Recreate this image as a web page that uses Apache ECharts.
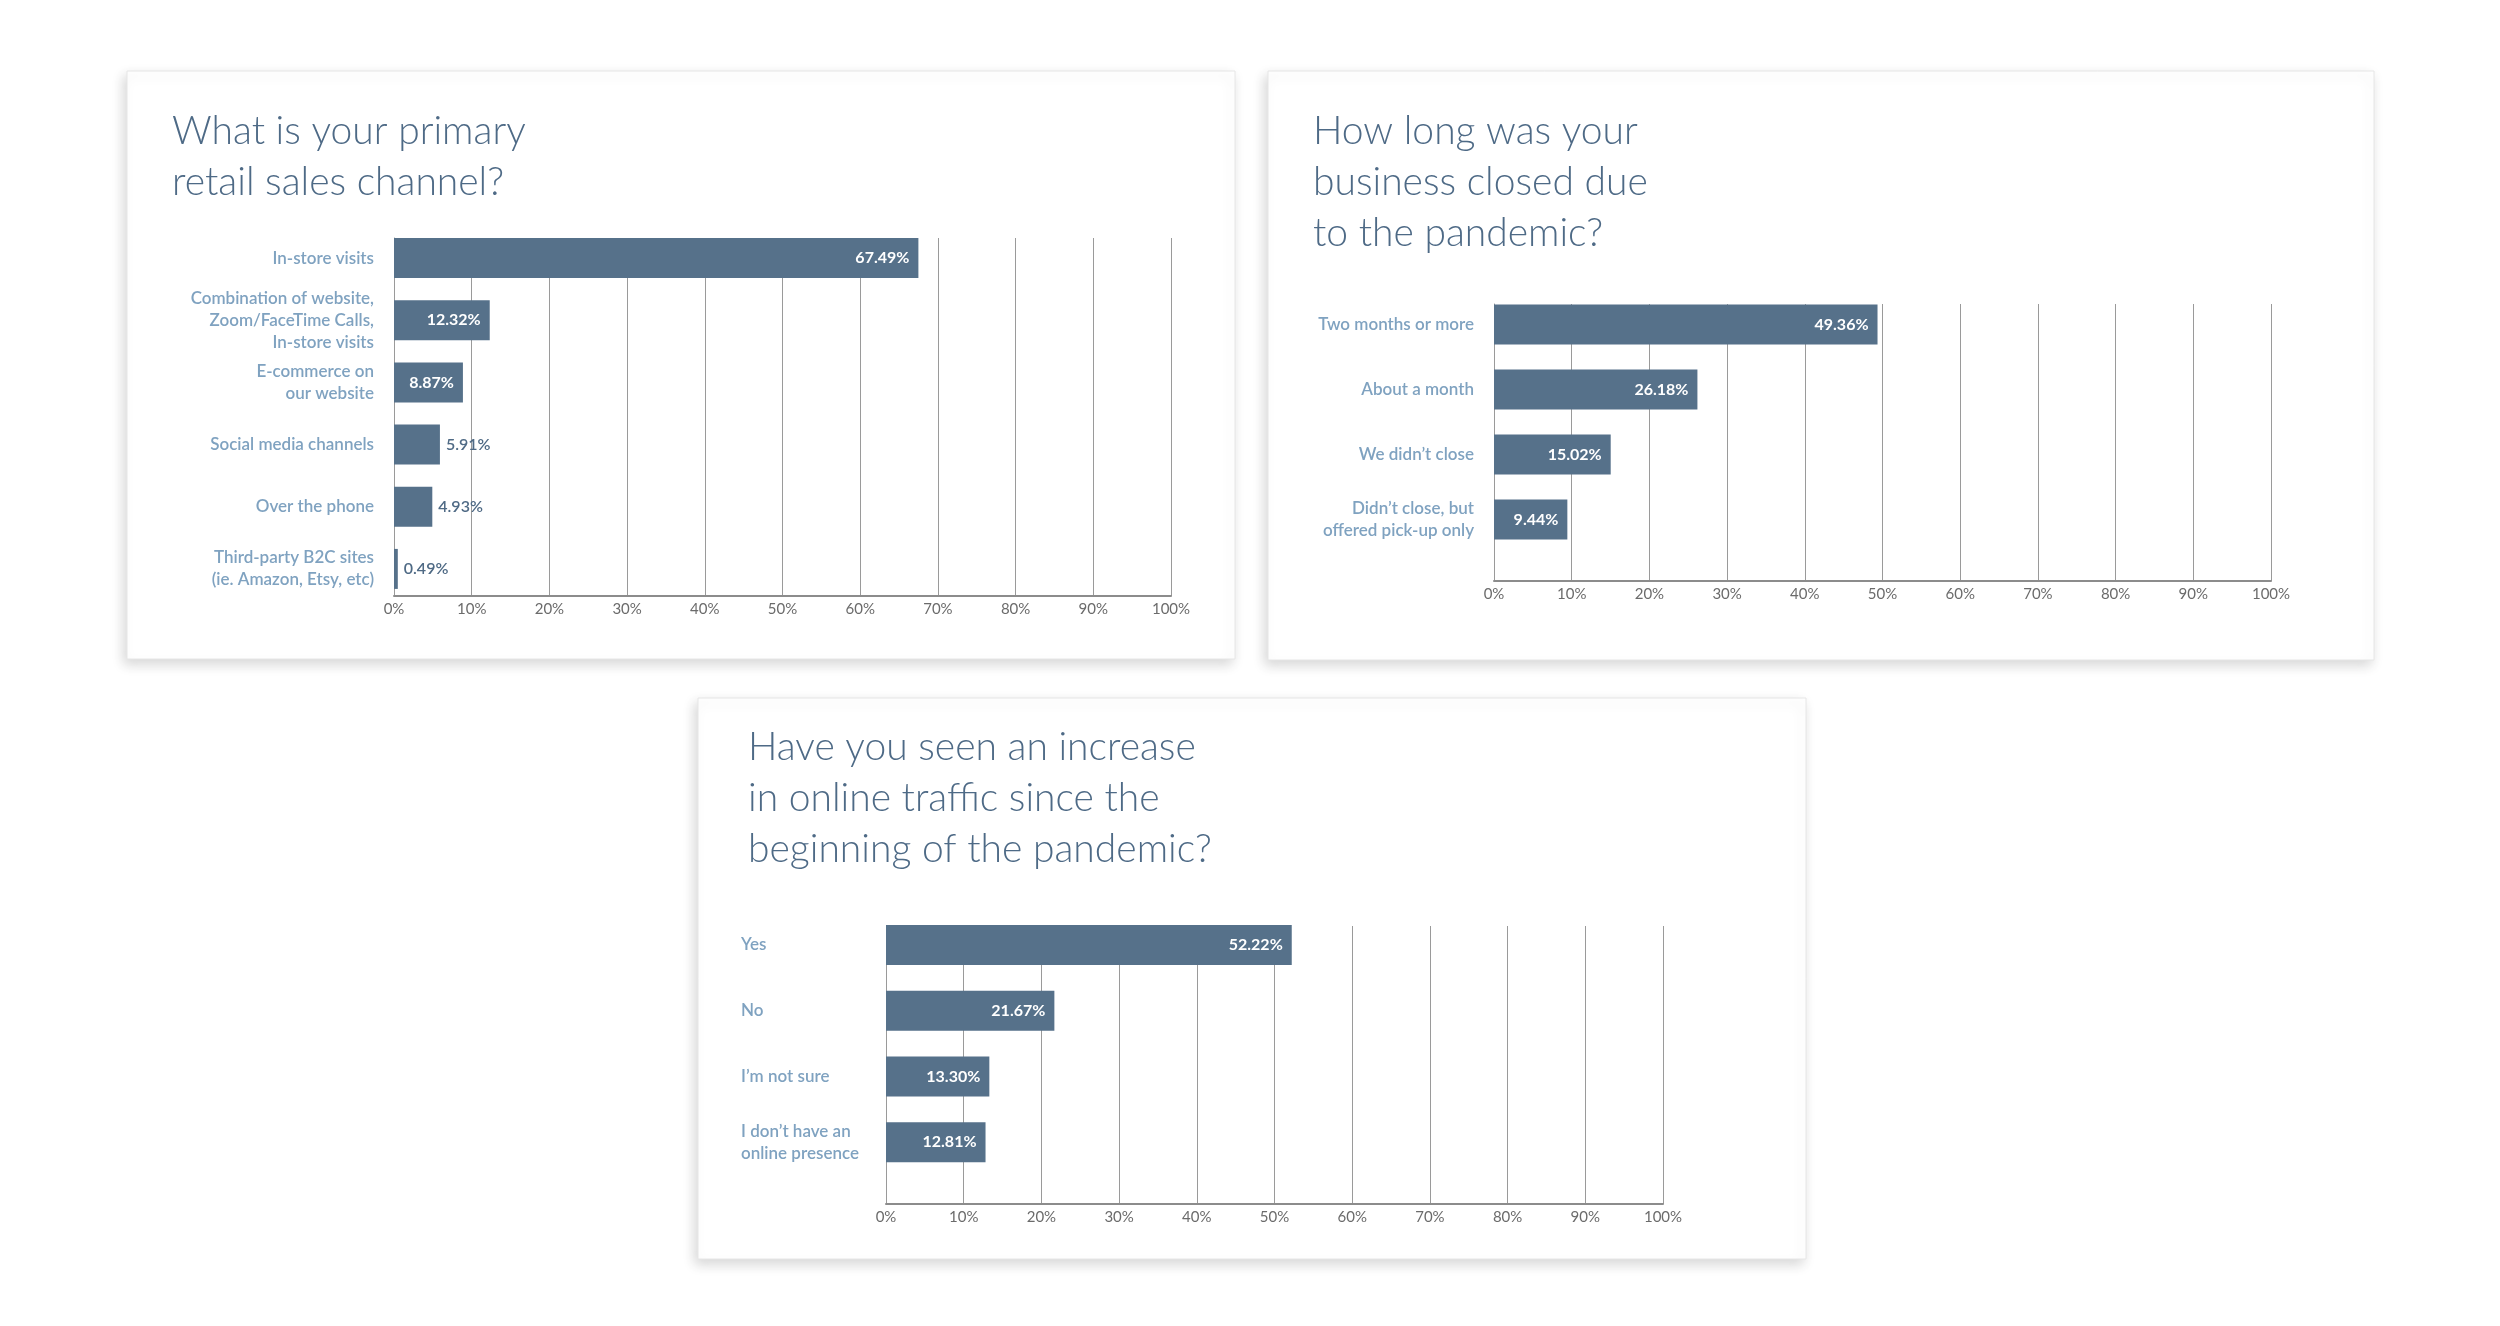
<!DOCTYPE html>
<html>
<head>
<meta charset="utf-8">
<script src="https://cdn.jsdelivr.net/npm/echarts@6/dist/echarts.min.js"></script>
<style>
  html, body { margin: 0; padding: 0; background: #fff; }
  #chart { width: 2500px; height: 1326px; }
</style>
</head>
<body>
<div id="chart"></div>
<script>
// data
const channelCats = ['In-store visits', 'Combination of website,\nZoom/FaceTime Calls,\nIn-store visits', 'E-commerce on\nour website', 'Social media channels', 'Over the phone', 'Third-party B2C sites\n(ie. Amazon, Etsy, etc)']
const channelVals = [67.49, 12.32, 8.87, 5.91, 4.93, 0.49]

const closedCats = ['Two months or more', 'About a month', 'We didn\u2019t close', 'Didn\u2019t close, but\noffered pick-up only']
const closedVals = [49.36, 26.18, 15.02, 9.44]

const trafficCats = ['Yes', 'No', 'I\u2019m not sure', 'I don\u2019t have an\nonline presence']
const trafficVals = [52.22, 21.67, 13.30, 12.81]

const titles = [
  'What is your primary\nretail sales channel?',
  'How long was your\nbusiness closed due\nto the pandemic?',
  'Have you seen an increase\nin online traffic since the\nbeginning of the pandemic?'
]

const FONT = 'Lato, "Noto Sans", sans-serif'
const BAR = '#56718a'
const CAT_COLOR = '#7fa2c0'

const chart = echarts.init(document.getElementById('chart'))

// 面板位置（卡片 + 两层网格）
const panels = [
  { card: [127, 71, 1108, 588], title: [167, 101], axis: [394, 238, 777, 358], bars: [394, 227, 777, 373], cats: channelCats, vals: channelVals, labelAlign: 'right', labelMargin: 20 },
  { card: [1268, 71, 1106, 589], title: [1308, 101], axis: [1494, 304, 777, 277], bars: [1494, 292, 777, 260], cats: closedCats, vals: closedVals, labelAlign: 'right', labelMargin: 20 },
  { card: [698, 698, 1108, 561], title: [743, 717], axis: [886, 926, 777, 278], bars: [886, 912, 777, 263], cats: trafficCats, vals: trafficVals, labelAlign: 'left', labelMargin: 145 }
]

const grid = [], xAxis = [], yAxis = [], series = [], title = [], graphic = []

panels.forEach((p, i) => {
  const a = i * 2, b = i * 2 + 1
  graphic.push({
    type: 'rect', z: -10,
    shape: { x: p.card[0], y: p.card[1], width: p.card[2], height: p.card[3] },
    style: { fill: '#fff', stroke: '#e6e6e6', lineWidth: 1, shadowBlur: 12, shadowOffsetX: -3, shadowOffsetY: 5, shadowColor: 'rgba(0,0,0,0.16)' }
  })
  title.push({
    text: titles[i], left: p.title[0], top: p.title[1],
    textStyle: { fontFamily: FONT, fontSize: 39, fontWeight: 300, lineHeight: 51, color: '#4e6a86' }
  })
  // 坐标轴和网格线
  grid.push({ left: p.axis[0], top: p.axis[1], width: p.axis[2], height: p.axis[3] })
  // 柱子
  grid.push({ left: p.bars[0], top: p.bars[1], width: p.bars[2], height: p.bars[3] })

  xAxis.push({
    gridIndex: a, type: 'value', min: 0, max: 100, interval: 10,
    axisLine: { show: true, lineStyle: { color: '#8c8c8c', width: 2 } },
    axisTick: { show: false },
    splitLine: { show: true, lineStyle: { color: '#9a9a9a', width: 1 } },
    axisLabel: { formatter: '{value}%', fontFamily: FONT, fontSize: 15, color: '#6b6b6b', margin: 6 }
  })
  xAxis.push({ gridIndex: b, type: 'value', min: 0, max: 100, show: false })

  yAxis.push({
    gridIndex: a, type: 'value', min: 0, max: 1,
    axisLine: { show: true, lineStyle: { color: '#9a9a9a', width: 1 } },
    axisTick: { show: false }, axisLabel: { show: false }, splitLine: { show: false }
  })
  yAxis.push({
    gridIndex: b, type: 'category', inverse: true, data: p.cats,
    axisLine: { show: false }, axisTick: { show: false }, splitLine: { show: false },
    axisLabel: { fontFamily: FONT, fontSize: 17, fontWeight: 600, lineHeight: 22, color: CAT_COLOR, margin: p.labelMargin, align: p.labelAlign }
  })

  series.push({
    type: 'bar', xAxisIndex: b, yAxisIndex: b, barWidth: 40,
    itemStyle: { color: BAR },
    data: p.vals.map(v => ({
      value: v,
      label: v >= 8
        ? { show: true, position: 'insideRight', distance: 9, color: '#fff', fontWeight: 700 }
        : { show: true, position: 'right', distance: 6, color: '#4f6a85', fontWeight: 600 }
    })),
    label: { fontFamily: FONT, fontSize: 16, formatter: d => d.value.toFixed(2) + '%' }
  })
})

chart.setOption({
  animation: false,
  backgroundColor: '#fff',
  graphic, title, grid, xAxis, yAxis, series
})
</script>
</body>
</html>
